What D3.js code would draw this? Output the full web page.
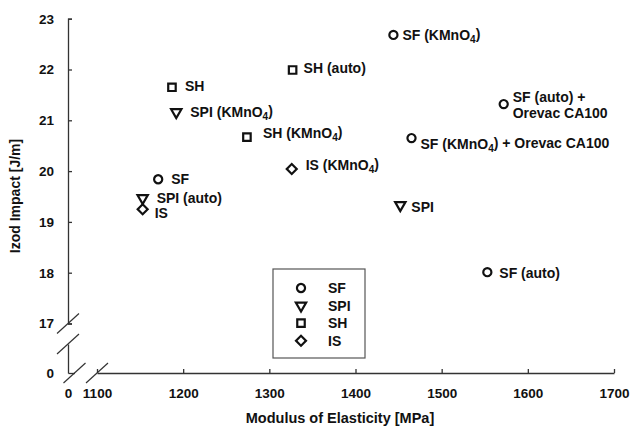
<!DOCTYPE html>
<html>
<head>
<meta charset="utf-8">
<script src="https://cdn.jsdelivr.net/npm/d3@7"></script>
<style>
  html, body { margin: 0; padding: 0; background: #fff; }
  svg text { font-family: "Liberation Sans", Arial, sans-serif; font-weight: bold; fill: #111; }
</style>
</head>
<body>
<div id="chart"></div>
<script>
// data
const seriesNames = ["SF", "SPI", "SH", "IS"];
const pointLabels = [
    "SF (KMnO_4)", "SH (auto)", "SH", "SPI (KMnO_4)", "SF (auto) +|Orevac CA100",
    "SH (KMnO_4)", "SF (KMnO_4) + Orevac CA100", "IS (KMnO_4)", "SF",
    "SPI (auto)", "IS", "SPI", "SF (auto)"
];
const pointSeries = ["SF", "SH", "SH", "SPI", "SF", "SH", "SF", "IS", "SF", "SPI", "IS", "SPI", "SF"];
const modulus = [1444, 1327, 1187, 1192, 1572, 1274, 1465, 1326, 1171, 1153, 1153, 1452, 1553];
const impact = [22.68, 21.99, 21.65, 21.16, 21.32, 20.67, 20.65, 20.04, 19.84, 19.47, 19.25, 19.33, 18.01];
const xTicks = [1100, 1200, 1300, 1400, 1500, 1600, 1700];
const yTicks = [17, 18, 19, 20, 21, 22, 23];

// label nudges in px (dx from marker, dy of first line centre)
const labelNudge = [
    [9, 0], [11, -2], [13, -1], [14, 0], [9, -7],
    [16, -4], [9, 6], [14, -4], [13, 0],
    [14, 0], [12, 4], [11, 2], [12, 1]
];

const W = 632, H = 429;
const svg = d3.select("#chart").append("svg")
    .attr("width", W).attr("height", H);

// scales (upper part + the broken-off zero part)
const x = d3.scaleLinear().domain([1100, 1700]).range([97, 614]);
const y = d3.scaleLinear().domain([17, 23]).range([323.5, 18.7]);
const xLow = d3.scaleLinear().domain([0, 1]).range([68, 74.5]);
const yLow = d3.scaleLinear().domain([0, 1]).range([373, 344]);
const axisY = 373, axisX = 68;
const fmt = d3.format("d");

// symbol per series
const shape = {
    SF: { type: d3.symbolCircle, size: 52, rot: 0 },
    SPI: { type: d3.symbolTriangle, size: 46, rot: 180 },
    SH: { type: d3.symbolSquare, size: 56, rot: 0 },
    IS: { type: d3.symbolSquare, size: 50, rot: 45 }
};
function drawMarker(g, s, cx, cy) {
    const m = shape[s];
    g.append("path")
        .attr("d", d3.symbol().type(m.type).size(m.size)())
        .attr("transform", `translate(${cx},${cy}) rotate(${m.rot})`)
        .attr("fill", "none")
        .attr("stroke", "#111")
        .attr("stroke-width", 2.2);
}

// x axis
svg.append("g")
    .attr("transform", `translate(0,${axisY})`)
    .call(d3.axisBottom(x).tickValues(xTicks).tickFormat(fmt)
        .tickSizeInner(-4).tickSizeOuter(0).tickPadding(15));
svg.append("g")
    .attr("transform", `translate(0,${axisY})`)
    .call(d3.axisBottom(xLow).tickValues([0]).tickFormat(fmt)
        .tickSizeInner(0).tickSizeOuter(0).tickPadding(15));

// y axis
svg.append("g")
    .attr("transform", `translate(${axisX},0)`)
    .call(d3.axisLeft(y).tickValues(yTicks).tickFormat(fmt)
        .tickSizeInner(-4).tickSizeOuter(-4).tickPadding(14));
svg.append("g")
    .attr("transform", `translate(${axisX},0)`)
    .call(d3.axisLeft(yLow).tickValues([0]).tickFormat(fmt)
        .tickSizeInner(0).tickSizeOuter(0).tickPadding(14));

svg.selectAll(".domain, .tick line").attr("stroke", "#333").attr("stroke-width", 1.3);
svg.selectAll(".tick text")
    .style("font-size", "13.5px")
    .style("font-family", "'Liberation Sans', Arial, sans-serif")
    .style("font-weight", "bold")
    .attr("fill", "#111");

// break marks
const breaks = [
    [axisX, y(17)], [axisX, yLow(1)],
    [xLow(1), axisY], [x(1100), axisY]
];
svg.selectAll(".brk")
    .data(breaks)
    .enter().append("line")
    .attr("x1", d => d[0] - 11).attr("y1", d => d[1] + 10)
    .attr("x2", d => d[0] + 11).attr("y2", d => d[1] - 10)
    .attr("stroke", "#333")
    .attr("stroke-width", 1.2);

// axis titles
svg.append("text")
    .attr("x", 340).attr("y", 423)
    .attr("text-anchor", "middle")
    .style("font-size", "14.5px")
    .text("Modulus of Elasticity [MPa]");
svg.append("text")
    .attr("transform", "translate(20,196) rotate(-90)")
    .attr("text-anchor", "middle")
    .style("font-size", "14px")
    .text("Izod Impact [J/m]");

// points + labels
const pts = svg.append("g");
modulus.forEach((m, i) => {
    const cx = x(m), cy = y(impact[i]);
    drawMarker(pts, pointSeries[i], cx, cy);

    const lines = pointLabels[i].split("|");
    const t = pts.append("text")
        .attr("x", cx + labelNudge[i][0])
        .attr("y", cy + labelNudge[i][1])
        .attr("dy", "0.36em")
        .style("font-size", "14px");
    lines.forEach((ln, li) => {
        const parts = ln.split("_");
        const first = t.append("tspan").text(parts[0]);
        if (li > 0) first.attr("x", cx + labelNudge[i][0]).attr("dy", "1.15em");
        if (parts.length > 1) {
            t.append("tspan").attr("dy", "0.3em").style("font-size", "10px").text(parts[1][0]);
            t.append("tspan").attr("dy", "-0.3em").text(parts[1].slice(1));
        }
    });
});

// legend
const leg = svg.append("g");
leg.append("rect")
    .attr("x", 273).attr("y", 269)
    .attr("width", 92).attr("height", 89)
    .attr("fill", "#fff")
    .attr("stroke", "#555")
    .attr("stroke-width", 1.2);
seriesNames.forEach((s, i) => {
    const ly = 288 + i * 17.6;
    drawMarker(leg, s, 301, ly);
    leg.append("text")
        .attr("x", 328).attr("y", ly)
        .attr("dy", "0.36em")
        .style("font-size", "14px")
        .text(s);
});
</script>
</body>
</html>
